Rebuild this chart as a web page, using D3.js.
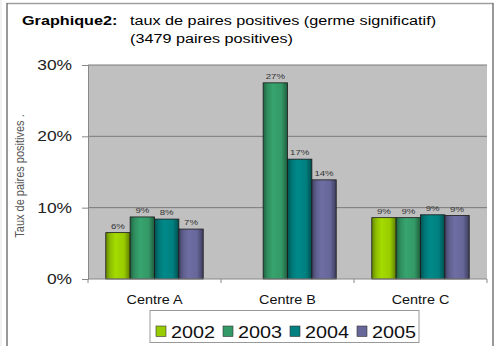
<!DOCTYPE html>
<html><head><meta charset="utf-8">
<script src="https://cdn.jsdelivr.net/npm/d3@7"></script>
<style>body{margin:0;background:#fff}svg{display:block}</style>
</head><body>
<script>
const categories = ["Centre A", "Centre B", "Centre C"];
const years = ["2002", "2003", "2004", "2005"];
const v2002 = [6.5, null, 8.6];
const v2003 = [8.7, 27.5, 8.6];
const v2004 = [8.4, 16.8, 9.0];
const v2005 = [7.0, 13.9, 8.9];
const labels2002 = ["6%", "", "9%"];
const labels2003 = ["9%", "27%", "9%"];
const labels2004 = ["8%", "17%", "9%"];
const labels2005 = ["7%", "14%", "9%"];
const yTicks = [0, 10, 20, 30];
const colors = ["#99cc00", "#339966", "#008080", "#666699"];

const series = [v2002, v2003, v2004, v2005];
const seriesLabels = [labels2002, labels2003, labels2004, labels2005];

const W = 496, H = 346, SX = 1.2;
const FONT = "Liberation Sans, Arial, sans-serif";
const svg = d3.select("body").append("svg").attr("width", W).attr("height", H);

function stext(parent, x, y, str, size, opts = {}) {
  const t = parent.append("text")
    .attr("transform", `translate(${x},${y}) scale(${SX},1)`)
    .attr("font-family", FONT).attr("font-size", size)
    .attr("fill", opts.fill || "#000")
    .attr("text-anchor", opts.anchor || "start")
    .text(str);
  if (opts.bold) t.attr("font-weight", "bold");
  return t;
}

// outer frame
svg.append("line").attr("x1",1).attr("x2",1).attr("y1",0).attr("y2",H).attr("stroke","#e4e4e4").attr("stroke-width",1);
svg.append("line").attr("x1",7).attr("x2",493).attr("y1",3.5).attr("y2",3.5).attr("stroke","#a0a0a0").attr("stroke-width",1.5);
svg.append("line").attr("x1",7).attr("x2",7).attr("y1",3).attr("y2",H).attr("stroke","#777").attr("stroke-width",1.5);
svg.append("line").attr("x1",493).attr("x2",493).attr("y1",3).attr("y2",H).attr("stroke","#777").attr("stroke-width",1.5);

// title
const tg = svg.append("g");
stext(tg, 22, 25, "Graphique2:", 13.5, {bold:true});
stext(tg, 130, 25, "taux de paires positives (germe significatif)", 13.5);
stext(tg, 130, 43, "(3479 paires positives)", 13.5);

const m = {l:88, r:487, t:65, b:279};
const x0 = d3.scaleBand().domain(categories).range([m.l, m.r]).paddingInner(0).paddingOuter(0);
const x1 = d3.scaleBand().domain(years).range([0, x0.bandwidth()]).paddingInner(0).paddingOuter(0.73);
const y = d3.scaleLinear().domain([0, 30]).range([m.b, m.t]);

// gradients
const defs = svg.append("defs");
colors.forEach((c, i) => {
  const g = defs.append("linearGradient").attr("id","g"+i).attr("x1","0").attr("x2","1").attr("y1","0").attr("y2","0");
  const base = d3.color(c);
  g.append("stop").attr("offset","0%").attr("stop-color", base.darker(1.2));
  g.append("stop").attr("offset","18%").attr("stop-color", base.darker(0.2));
  g.append("stop").attr("offset","40%").attr("stop-color", base.brighter(0.2));
  g.append("stop").attr("offset","75%").attr("stop-color", base);
  g.append("stop").attr("offset","100%").attr("stop-color", base.darker(1.4));
});

// plot background
svg.append("rect").attr("x",m.l).attr("y",m.t).attr("width",m.r-m.l).attr("height",m.b-m.t).attr("fill","#c0c0c0");

// gridlines
svg.append("g").selectAll("line").data(yTicks.filter(d=>d>0)).join("line")
  .attr("x1",m.l).attr("x2",m.r).attr("y1",d=>y(d)).attr("y2",d=>y(d))
  .attr("stroke","#7a7a7a").attr("stroke-width",1);

// bars
const bars = svg.append("g");
series.forEach((vals, si) => {
  vals.forEach((v, ci) => {
    if (v == null) return;
    const bx = x0(categories[ci]) + x1(years[si]);
    bars.append("rect").attr("x", bx).attr("y", y(v)).attr("width", x1.bandwidth()).attr("height", y(0)-y(v))
      .attr("fill", "url(#g"+si+")").attr("stroke","#1a1a1a").attr("stroke-width",0.8);
    stext(bars, bx + x1.bandwidth()/2, y(v)-4, seriesLabels[si][ci], 8, {anchor:"middle", fill:"#333"});
  });
});

// y axis
const ya = svg.append("g").attr("transform",`translate(${m.l},0)`)
  .call(d3.axisLeft(y).tickValues(yTicks).tickFormat(d=>d+"%").tickSize(6).tickPadding(10));
ya.select(".domain").attr("stroke","#888");
ya.selectAll(".tick line").attr("stroke","#888");
ya.selectAll("text").attr("font-family",FONT).attr("font-size",14.5).attr("fill","#222")
  .attr("x", -16/SX).attr("transform",`scale(${SX},1)`);

// x axis
const xa = svg.append("g").attr("transform",`translate(0,${m.b})`);
xa.append("line").attr("x1",m.l).attr("x2",m.r).attr("stroke","#888");
const bounds = categories.map(c=>x0(c)).concat([m.r]);
xa.selectAll(".tk").data(bounds).join("line").attr("class","tk")
  .attr("x1",d=>d).attr("x2",d=>d).attr("y1",0).attr("y2",4).attr("stroke","#888");
categories.forEach(c => stext(xa, x0(c)+x0.bandwidth()/2, 25, c, 12, {anchor:"middle", fill:"#111"}));

// y title
svg.append("text").attr("transform","translate(24,176) rotate(-90) scale(1,1.15)").attr("text-anchor","middle")
  .attr("font-family",FONT).attr("font-size",11).attr("fill","#555")
  .text("Taux de paires positives .");

// legend
const lg = svg.append("g");
lg.append("rect").attr("x",150).attr("y",310.5).attr("width",269).attr("height",32).attr("fill","#fff").attr("stroke","#999");
const lx = d3.scaleBand().domain(years).range([156, 424]);
years.forEach((yr, i) => {
  const gx = lx(yr);
  lg.append("rect").attr("x",gx).attr("y",326).attr("width",10).attr("height",10.5)
    .attr("fill",colors[i]).attr("stroke","#333").attr("stroke-width",0.6);
  stext(lg, gx+15, 337.5, yr, 16.5, {fill:"#111"});
});
</script>
</body></html>
